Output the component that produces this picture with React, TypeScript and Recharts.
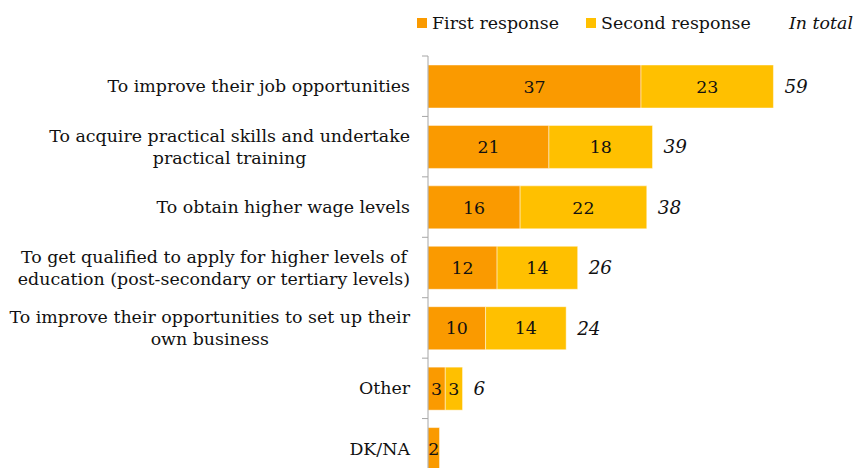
import { BarChart, Bar, XAxis, YAxis, LabelList } from 'recharts'

// reasons, top to bottom; '\n' marks the line breaks of the original labels
const categories = [
  'To improve their job opportunities',
  'To acquire practical skills and undertake\npractical training',
  'To obtain higher wage levels',
  'To get qualified to apply for higher levels of\neducation (post-secondary or tertiary levels)',
  'To improve their opportunities to set up their\nown business',
  'Other',
  'DK/NA',
]
const firstResponse = [37, 21, 16, 12, 10, 3, 2]
const secondResponse = [23, 18, 22, 14, 14, 3, 0]
// total shown in italics right of the bar (none printed for DK/NA)
const inTotal: (number | null)[] = [59, 39, 38, 26, 24, 6, null]

const data = categories.map((name, i) => ({
  name,
  first: firstResponse[i],
  second: secondResponse[i],
  total: inTotal[i],
}))

const FONT = '"DejaVu Serif", Georgia, serif'
const FONT_SIZE = 17.4
const ORANGE = '#FA9A00'
const YELLOW = '#FFC000'
const AXIS_GRAY = '#A6A6A6'
const TICK_MARGIN = 18

let ctx: CanvasRenderingContext2D | null = null
const measure = (s: string) => {
  if (!ctx) ctx = document.createElement('canvas').getContext('2d')
  if (!ctx) return s.length * 9
  ctx.font = `${FONT_SIZE}px ${FONT}`
  return ctx.measureText(s).width
}

function CategoryTick(props: any) {
  const { x, y, payload } = props
  const lines = String(payload.value).split('\n')
  const maxW = Math.max(...lines.map(measure))
  const cx = x - maxW / 2
  const lineH = 22
  const startY = y - ((lines.length - 1) * lineH) / 2
  const axisX = x + TICK_MARGIN
  const half = payload.offset ?? 30
  return (
    <g>
      <line x1={axisX - 6} x2={axisX} y1={y - half} y2={y - half} stroke={AXIS_GRAY} />
      <text textAnchor="middle" fill="#111" fontFamily={FONT} fontSize={FONT_SIZE}>
        {lines.map((l, i) => (
          <tspan key={i} x={cx} y={startY + i * lineH} dy="0.35em">{l}</tspan>
        ))}
      </text>
    </g>
  )
}

function LegendBox() {
  const item = (left: number, color: string | null, text: string, italic = false) => (
    <div style={{ position: 'absolute', left, top: 0, display: 'flex', alignItems: 'center', height: 20, whiteSpace: 'nowrap' }}>
      {color && <span style={{ width: 10, height: 10, background: color, marginRight: 5 }} />}
      <span style={{ fontStyle: italic ? 'italic' : 'normal' }}>{text}</span>
    </div>
  )
  return (
    <div style={{ position: 'absolute', left: 0, top: 13, width: 856, height: 20, fontFamily: FONT, fontSize: FONT_SIZE, color: '#111' }}>
      {item(417, ORANGE, 'First response')}
      {item(586, YELLOW, 'Second response')}
      {item(789, null, 'In total', true)}
    </div>
  )
}

export default function App() {
  return (
    <div style={{ position: 'absolute', left: 0, top: 0, width: 856, height: 468, overflow: 'hidden', background: '#fff' }}>
      <LegendBox />
      <div style={{ position: 'absolute', left: 0, top: 0 }}>
        <BarChart
          width={856}
          height={500}
          data={data}
          layout="vertical"
          margin={{ top: 56, right: 25, bottom: 21, left: 0 }}
          barSize={43}
        >
          <XAxis type="number" domain={[0, 70]} hide />
          <YAxis
            type="category"
            dataKey="name"
            width={428}
            interval={0}
            tickSize={0}
            tickMargin={TICK_MARGIN}
            tickLine={false}
            axisLine={{ stroke: AXIS_GRAY }}
            tick={<CategoryTick />}
          />
          <Bar dataKey="first" stackId="a" fill={ORANGE} stroke="rgba(255,255,255,0.45)" isAnimationActive={false}>
            <LabelList dataKey="first" position="center" fill="#111" fontFamily={FONT} fontSize={FONT_SIZE} />
          </Bar>
          <Bar dataKey="second" stackId="a" fill={YELLOW} stroke="rgba(255,255,255,0.45)" isAnimationActive={false}>
            <LabelList dataKey="second" position="center" fill="#111" fontFamily={FONT} fontSize={FONT_SIZE}
              formatter={(v: any) => (v ? v : '')} />
            <LabelList dataKey="total" position="right" offset={11} fill="#111" fontFamily={FONT}
              fontSize={FONT_SIZE + 1} fontStyle="italic" formatter={(v: any) => (v == null ? '' : v)} />
          </Bar>
        </BarChart>
      </div>
    </div>
  )
}
